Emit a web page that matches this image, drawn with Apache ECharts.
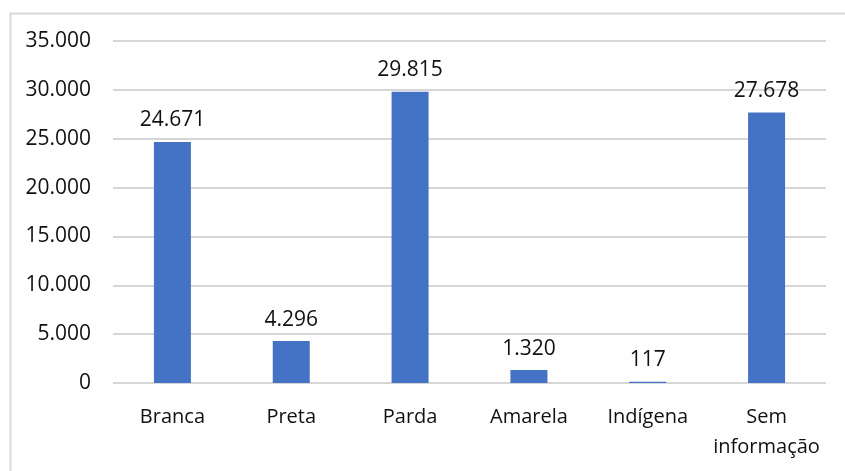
<!DOCTYPE html>
<html>
<head>
<meta charset="utf-8">
<script src="https://cdn.jsdelivr.net/npm/echarts@6/dist/echarts.min.js"></script>
<style>
  html, body { margin: 0; padding: 0; background: #fff; }
  #chart { width: 845px; height: 471px; }
</style>
</head>
<body>
<div id="chart"></div>
<script>
// Casos por raça/cor
const categories = ['Branca', 'Preta', 'Parda', 'Amarela', 'Indígena', 'Sem\ninformação'];
const casos = [24671, 4296, 29815, 1320, 117, 27678];
const yTicks = { min: 0, max: 35000, interval: 5000 };

// Thousands separator with a dot, as in pt-BR
function fmt(v) {
  return String(Math.round(v)).replace(/\B(?=(\d{3})+(?!\d))/g, '.');
}

const fontFamily = '"Open Sans", "Liberation Sans", sans-serif';
const textColor = '#111111';

const chart = echarts.init(document.getElementById('chart'), null, { renderer: 'canvas' });
chart.setOption({
  animation: false,
  backgroundColor: '#ffffff',
  graphic: [{
    type: 'rect',
    left: 8, top: 11,
    shape: { width: 900, height: 520 },
    style: { fill: 'none', stroke: '#d9d9d9', lineWidth: 2 },
    silent: true
  }],
  grid: { left: 113, right: 19, top: 41, bottom: 88 },
  xAxis: {
    type: 'category',
    data: categories,
    axisLine: { show: false },
    axisTick: { show: false },
    axisLabel: {
      interval: 0,
      margin: 19,
      color: textColor,
      fontFamily: fontFamily,
      fontSize: 20,
      lineHeight: 30
    }
  },
  yAxis: {
    type: 'value',
    min: yTicks.min,
    max: yTicks.max,
    interval: yTicks.interval,
    axisLine: { show: false },
    axisTick: { show: false },
    splitLine: { lineStyle: { color: '#d6d6d6', width: 2 } },
    axisLabel: {
      margin: 22,
      color: textColor,
      fontFamily: fontFamily,
      fontSize: 21,
      formatter: fmt
    }
  },
  series: [{
    type: 'bar',
    data: casos,
    barWidth: 37,
    itemStyle: { color: '#4472c4' },
    label: {
      show: true,
      position: 'top',
      distance: 11,
      color: textColor,
      fontFamily: fontFamily,
      fontSize: 21,
      formatter: p => fmt(p.value)
    }
  }]
});
</script>
</body>
</html>
